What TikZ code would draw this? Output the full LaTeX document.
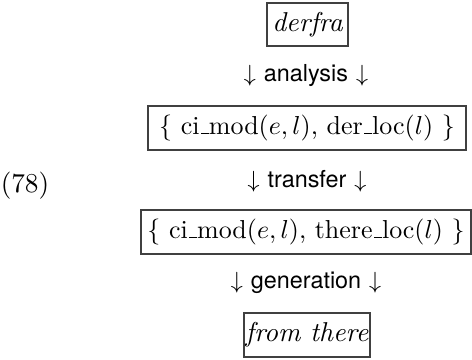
\documentclass[tikz,border=0pt]{standalone}
\usepackage{fontspec}
\setsansfont{TeX Gyre Heros}
\newcommand\usc{\leavevmode\kern.06em\vbox{\hrule width.3em}}
\begin{document}
\begin{tikzpicture}[x=0.385pt,y=-0.385pt,
  boxnode/.style={draw=black!75,line width=0.45pt,inner sep=0pt,minimum height=16.9pt,font=\fontsize{10}{12}\selectfont},
  lblnode/.style={inner sep=0pt,font=\fontsize{9}{11}\selectfont},
  numnode/.style={inner sep=0pt,font=\fontsize{10.5}{12}\selectfont}]
\useasboundingbox (0,0) rectangle (472,360);
\node[boxnode,minimum width=31.2pt,minimum height=16.6pt,font=\fontsize{10.5}{12}\selectfont] (derfra) at (307.5,24.5) {\itshape derfra};
\node[lblnode] (analysis) at (306,76) {$\downarrow$ \textsf{analysis} $\downarrow$};
\node[boxnode,minimum width=122.4pt] (src) at (307,128) {\{ ci\usc mod($e,l$), der\usc loc($l$) \}};
\node[numnode] (num) at (25,186) {(78)};
\node[lblnode] (transfer) at (307,181) {$\downarrow$ \textsf{transfer} $\downarrow$};
\node[boxnode,minimum width=127.1pt] (tgt) at (306,232) {\{ ci\usc mod($e,l$), there\usc loc($l$) \}};
\node[lblnode] (generation) at (306,283) {$\downarrow$ \textsf{generation} $\downarrow$};
\node[boxnode,minimum width=48.5pt,font=\fontsize{10.5}{12}\selectfont] (fromthere) at (307,335) {\itshape from there};
\end{tikzpicture}
\end{document}
